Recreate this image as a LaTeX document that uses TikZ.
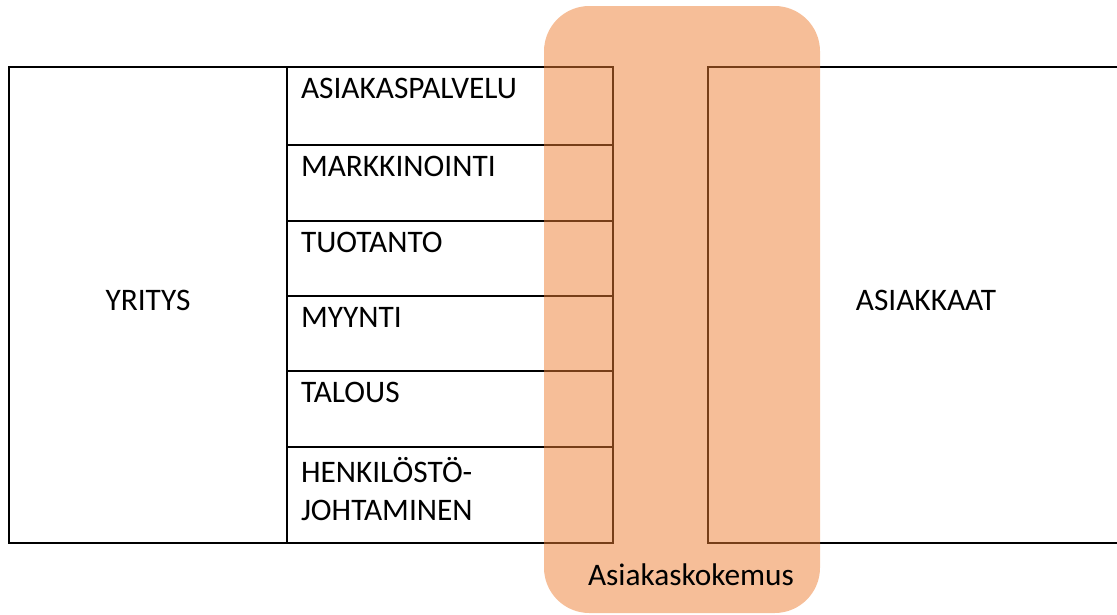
\documentclass[tikz,border=0pt]{standalone}
\usepackage{fontspec}
\setmainfont{Carlito}
\definecolor{accent}{HTML}{ED7D31}
\begin{document}
\begin{tikzpicture}[x=0.75pt,y=-0.75pt,line width=1.5pt,
  cell/.style={draw=black,line width=1.5pt},
  lbl/.style={inner sep=0pt,anchor=base west,font=\fontsize{23.5}{28.5}\selectfont,align=left},
  clbl/.style={inner sep=0pt,font=\fontsize{23.5}{28.5}\selectfont}]
\useasboundingbox (0,0) rectangle (1117,614);
% company box
\draw[cell] (9,67) rectangle (287,543);
\node[clbl] (yritys) at (148,300) {YRITYS};
% department rows
\foreach \t/\b/\n in {67/145/r1,145/221/r2,221/296/r3,296/371/r4,371/447/r5,447/543/r6}{
  \draw[cell] (287,\t) rectangle (613,\b);
  \coordinate (\n) at (300,\t+31);
}
\node[lbl] (l1) at (r1) {ASIAKASPALVELU};
\node[lbl] (l2) at (r2) {MARKKINOINTI};
\node[lbl] (l3) at (r3) {TUOTANTO};
\node[lbl] (l4) at (r4) {MYYNTI};
\node[lbl] (l5) at (r5) {TALOUS};
\node[lbl,anchor=north west] (l6) at (300,456) {HENKILÖSTÖ-\\JOHTAMINEN};
% customers
\draw[cell] (1117,67) -- (708,67) -- (708,543) -- (1117,543);
\node[clbl] (asiakkaat) at (926,300) {ASIAKKAAT};
% customer experience overlay
\fill[accent,opacity=0.5,rounded corners=34pt] (544,6) rectangle (820,613);
\node[clbl] (kokemus) at (691,575) {Asiakaskokemus};
\end{tikzpicture}
\end{document}
